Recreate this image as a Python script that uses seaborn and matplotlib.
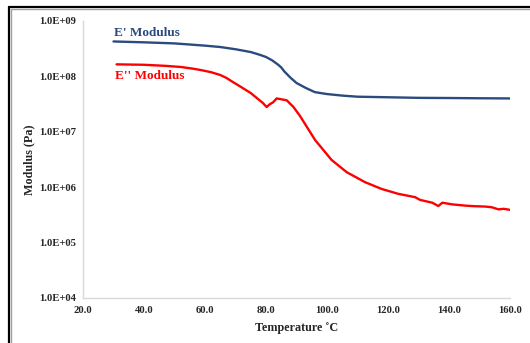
import matplotlib
matplotlib.use("Agg")
import matplotlib.pyplot as plt
from matplotlib.lines import Line2D
import seaborn as sns
import pandas as pd

# ---- data ----
temp_e1 = [30, 40, 50, 60, 65, 70, 75, 78, 80, 82, 84, 85, 86, 88, 90, 93, 96,
           100, 105, 110, 120, 130, 140, 150, 160]
mod_e1 = [4.27e8, 4.12e8, 3.94e8, 3.59e8, 3.39e8, 3.09e8, 2.75e8, 2.45e8, 2.24e8,
          1.95e8, 1.62e8, 1.45e8, 1.23e8, 9.5e7, 7.6e7, 6.2e7, 5.2e7,
          4.8e7, 4.5e7, 4.3e7, 4.2e7, 4.1e7, 4.07e7, 4.03e7, 4.0e7]

temp_e2 = [31, 40, 47, 52, 56, 59, 62, 65, 67, 69, 71.5, 75, 79, 80.2, 81.2, 82.3, 83.5,
           84.6, 86.8, 89, 91.1, 96.1, 101.5, 106.5, 112.5, 117.9, 123.3, 128.9,
           130.5, 134.5, 136.5, 137.8, 141, 145.3, 148, 151.9, 154, 156.2, 157.9, 160]
mod_e2 = [1.65e8, 1.62e8, 1.55e8, 1.48e8, 1.38e8, 1.29e8, 1.19e8, 1.06e8, 9.4e7, 8.0e7, 6.6e7,
          5.0e7, 3.3e7, 2.8e7, 3.13e7, 3.4e7, 4.0e7,
          3.9e7, 3.7e7, 2.8e7, 1.95e7, 7.1e6, 3.1e6, 1.86e6, 1.23e6, 9.3e5, 7.6e5, 6.6e5,
          5.9e5, 5.25e5, 4.57e5, 5.25e5, 4.9e5, 4.65e5, 4.55e5, 4.47e5, 4.35e5, 3.98e5, 4.07e5, 3.9e5]

x_ticks = [20, 40, 60, 80, 100, 120, 140, 160]
x_tick_labels = ["20.0", "40.0", "60.0", "80.0", "100.0", "120.0", "140.0", "160.0"]
y_ticks = [1e4, 1e5, 1e6, 1e7, 1e8, 1e9]
y_tick_labels = ["1.0E+04", "1.0E+05", "1.0E+06", "1.0E+07", "1.0E+08", "1.0E+09"]

series_names = ["E' Modulus", "E'' Modulus"]
series_colors = ["#2B4A7E", "#FF0000"]

df1 = pd.DataFrame({"T": temp_e1, "M": mod_e1})
df2 = pd.DataFrame({"T": temp_e2, "M": mod_e2})

sns.set_style("white")
plt.rcParams["font.family"] = ["Liberation Serif", "DejaVu Serif"]

fig = plt.figure(figsize=(5.30, 3.43), dpi=100)
ax = fig.add_axes([0.1566, 0.1312, 0.8057, 0.8076])

sns.lineplot(data=df1, x="T", y="M", ax=ax, color=series_colors[0], lw=1.7)
sns.lineplot(data=df2, x="T", y="M", ax=ax, color=series_colors[1], lw=1.7)

ax.set_yscale("log")
ax.set_xlim(20, 160)
ax.set_ylim(1e4, 1e9)
ax.set_xticks(x_ticks)
ax.set_xticklabels(x_tick_labels, fontsize=7.7, fontweight="bold")
ax.set_yticks(y_ticks)
ax.set_yticklabels(y_tick_labels, fontsize=7.7, fontweight="bold")
ax.minorticks_off()
ax.tick_params(axis="x", length=0, pad=6)
ax.tick_params(axis="y", length=0, pad=5)

for s in ["top", "right"]:
    ax.spines[s].set_visible(False)
for s in ["left", "bottom"]:
    ax.spines[s].set_color("#d9d9d9")
    ax.spines[s].set_linewidth(1.0)

ax.set_xlabel("Temperature ˚C", fontsize=8.7, fontweight="bold", labelpad=5)
ax.set_ylabel("Modulus (Pa)", fontsize=8.7, fontweight="bold", labelpad=3)

ax.text(30.2, 6.0e8, series_names[0], color=series_colors[0], fontsize=9.5,
        fontweight="bold", va="center", ha="left")
ax.text(30.6, 1.0e8, series_names[1], color=series_colors[1], fontsize=9.5,
        fontweight="bold", va="center", ha="left")

# outer frame (top and left edges)
fig.add_artist(Line2D([8.5/530, 1], [1 - 6.5/343, 1 - 6.5/343], color="black", lw=1.6))
fig.add_artist(Line2D([8.5/530, 8.5/530], [0, 1 - 6.5/343], color="black", lw=1.6))
fig.add_artist(Line2D([11/530, 1], [1 - 9/343, 1 - 9/343], color="#a0a0a0", lw=1.0))
fig.add_artist(Line2D([11/530, 11/530], [0, 1 - 9/343], color="#a0a0a0", lw=1.0))

fig.savefig("out.png", dpi=100)
